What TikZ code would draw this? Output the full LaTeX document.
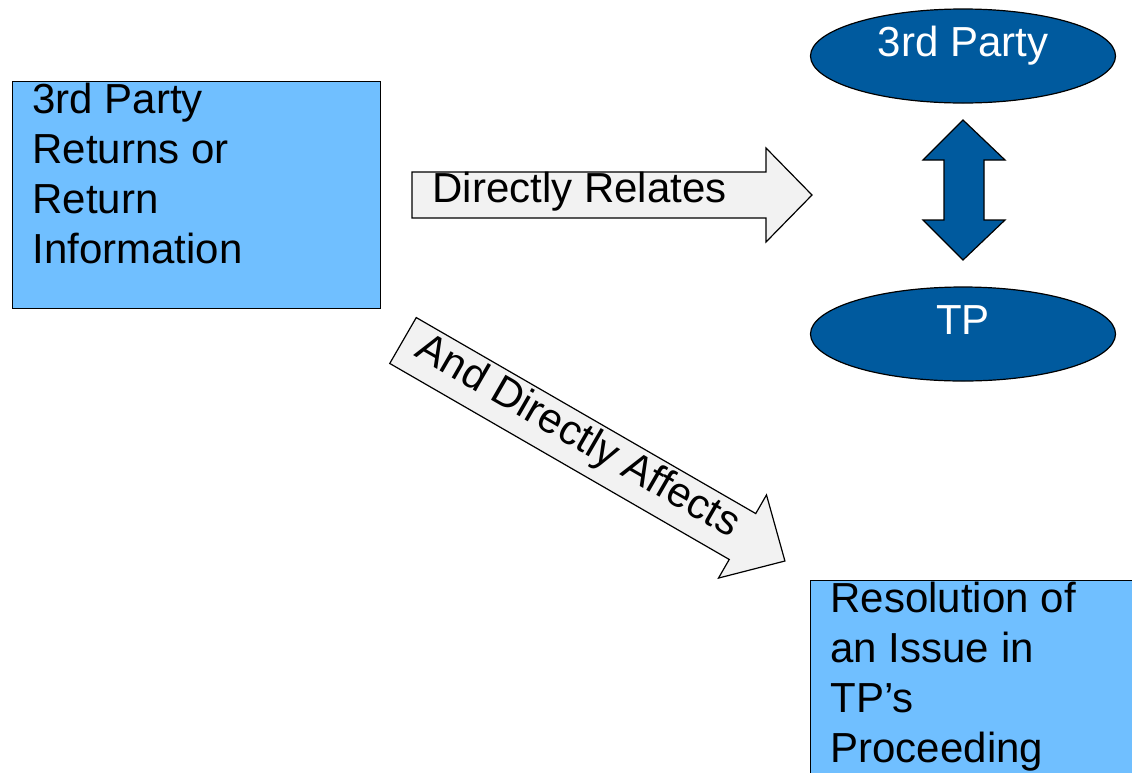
\documentclass[tikz,border=0pt]{standalone}
\usepackage{fontspec}
\setmainfont{Liberation Sans}
\usepackage{tikz}
\usetikzlibrary{shapes.geometric}
\definecolor{boxblue}{RGB}{112,191,255}
\definecolor{ovalblue}{RGB}{0,90,158}
\definecolor{arrowgray}{RGB}{242,242,242}

\begin{document}
\begin{tikzpicture}[x=1pt,y=-1pt,line width=1.2pt,font=\fontsize{42}{50}\selectfont,
   infobox/.style={rectangle,draw=black,fill=boxblue,inner sep=0pt,anchor=north west},
   infotext/.style={anchor=north west,align=left,inner xsep=20pt,inner ysep=1.5pt},
   oval/.style={ellipse,draw=black,fill=ovalblue,text=white,inner sep=0pt,minimum width=305pt,minimum height=94pt,text height=0pt,text depth=0pt},
   blockarrow/.style={draw=black,fill=arrowgray,line join=miter},
   dblarrow/.style={draw=black,fill=ovalblue,line join=miter}]
\useasboundingbox (0,0) rectangle (1132,772);
\node[infobox,minimum width=368pt,minimum height=227pt] (retinfo) at (12,81) {};
\node[infotext] (retinfotext) at (retinfo.north west) {3rd Party\\Returns or\\Return\\Information};
\node[infobox,minimum width=340pt,minimum height=210pt] (resolution) at (810,580) {};
\node[infotext] (resolutiontext) at (resolution.north west) {Resolution of\\an Issue in\\TP’s\\Proceeding};
\node[oval] (party) at (963,56) {3rd Party};
\node[oval] (tp) at (963,334) {TP};
\draw[dblarrow] (963,120) -- (1005,160) -- (984,160) -- (984,220) -- (1005,220) -- (963,260)
   -- (923,220) -- (944,220) -- (944,160) -- (923,160) -- cycle;
\begin{scope}[shift={(412,195)}]
\draw[blockarrow] (0,-23) -- (354,-23) -- (354,-47) -- (400,0) -- (354,47) -- (354,23) -- (0,23) -- cycle;
\node[anchor=base west,inner sep=0pt] (relates) at (20,7.5) {Directly Relates};
\end{scope}
\begin{scope}[shift={(403,340.5)},rotate=-30]
\draw[blockarrow] (0,-26.5) -- (392,-26.5) -- (392,-48) -- (441,0) -- (392,48) -- (392,26.5) -- (0,26.5) -- cycle;
\node[anchor=base west,inner sep=0pt,rotate=-30] (affects) at (16,7.6) {And Directly Affects};
\end{scope}
\end{tikzpicture}
\end{document}
